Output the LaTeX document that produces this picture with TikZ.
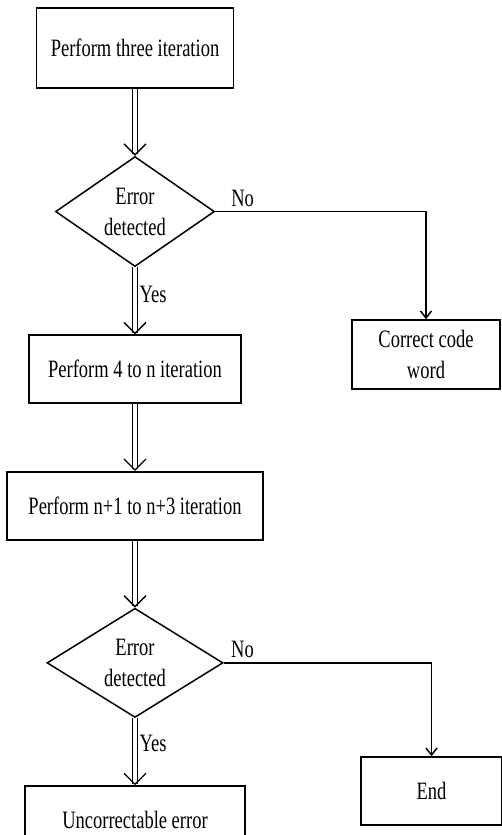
\documentclass[tikz,border=0pt]{standalone}
\usepackage{fontspec}
\setmainfont{Liberation Serif}
\usetikzlibrary{positioning, shapes.geometric, arrows.meta}

% taller letters, as in the scanned chart
\newcommand{\tallt}[1]{\scalebox{1}[1.35]{#1}}

\begin{document}
\begin{tikzpicture}[
            x=1pt, y=1pt,
            node distance=67pt,
            every node/.style={font=\fontsize{18.5}{31}\selectfont},
            process/.style={draw, rectangle, line width=1.6pt, fill=white, minimum height=68pt, align=center, inner sep=2pt},
            decision/.style={draw, diamond, line width=1.5pt, inner sep=0pt, align=center},
            doubleflow/.style={double, double distance=3.5pt, line width=1.3pt, -{Straight Barb[length=11pt, width=22pt]}},
            flow/.style={line width=1.5pt, -{Straight Barb[length=7pt, width=11pt]}},
            lbl/.style={inner sep=4pt}
        ]
            \useasboundingbox (0,0) rectangle (502,-835);

            % Main column
            \node (start) [process, minimum width=197pt, minimum height=80pt] at (135,-48) {\tallt{Perform three iteration}};
            \node (dec1) [decision, minimum width=159pt, minimum height=110pt, below=of start] {\tallt{Error}\\\tallt{detected}};
            \node (iter) [process, minimum width=212pt, below=of dec1] {\tallt{Perform 4 to n iteration}};
            \node (iterb) [process, minimum width=256pt, below=of iter] {\tallt{Perform n+1 to n+3 iteration}};
            \node (dec2) [decision, minimum width=176pt, minimum height=100pt, below=of iterb] {\tallt{Error}\\\tallt{detected}};
            \node (uncorr) [process, minimum width=220pt, below=of dec2] {\tallt{Uncorrectable error}};

            % Right column
            \node (correct) [process, minimum width=148pt, minimum height=69pt] at (426,-354.5) {\tallt{Correct code}\\\tallt{word}};
            \node (finish) [process, minimum width=141pt] at (431.5,-791) {\tallt{End}};

            % Connectors
            \draw[doubleflow] (start) -- (dec1);
            \draw[doubleflow] (dec1) -- node[lbl, right, pos=0.4] (yes1) {\tallt{Yes}} (iter);
            \draw[flow] (dec1.east) -| node[lbl, above, pos=0.065] (no1) {\tallt{No}} (correct.north);
            \draw[doubleflow] (iter) -- (iterb);
            \draw[doubleflow] (iterb) -- (dec2);
            \draw[doubleflow] (dec2) -- node[lbl, right, pos=0.37] (yes2) {\tallt{Yes}} (uncorr);
            \draw[flow] (dec2.east) -| node[lbl, above, pos=0.045] (no2) {\tallt{No}} (finish.north);
        \end{tikzpicture}
\end{document}
